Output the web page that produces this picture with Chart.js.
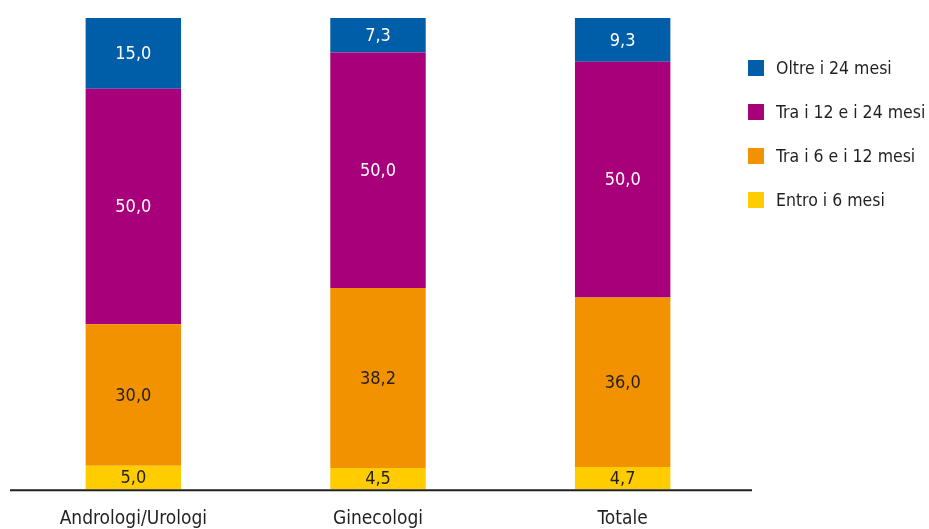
<!DOCTYPE html>
<html>
<head>
<meta charset="utf-8">
<script src="https://cdn.jsdelivr.net/npm/chart.js@4"></script>
<style>
  html, body { margin: 0; padding: 0; background: #fff; overflow: hidden; }
  #wrap { position: relative; width: 929px; height: 560px; }
</style>
</head>
<body>
<div id="wrap"><canvas id="grafico"></canvas></div>
<script>
var categorie = ['Andrologi/Urologi', 'Ginecologi', 'Totale'];
var entro6 = [5.0, 4.5, 4.7];
var tra6e12 = [30.0, 38.2, 36.0];
var tra12e24 = [50.0, 50.0, 50.0];
var oltre24 = [15.0, 7.3, 9.3];

var font = "'Liberation Sans Narrow', 'DejaVu Sans Condensed', 'Arial Narrow', sans-serif";

// valori dentro le barre
var etichette = {
  id: 'etichette',
  afterDatasetsDraw: function (chart) {
    var ctx = chart.ctx;
    ctx.save();
    ctx.font = '18px ' + font;
    ctx.textAlign = 'center';
    ctx.textBaseline = 'middle';
    chart.data.datasets.forEach(function (ds, i) {
      var meta = chart.getDatasetMeta(i);
      meta.data.forEach(function (bar, j) {
        var v = ds.data[j];
        var y = (bar.y + bar.base) / 2;
        ctx.fillStyle = ds.labelColor;
        ctx.fillText(v.toFixed(1).replace('.', ','), bar.x, y + 1);
      });
    });
    ctx.restore();
  }
};

// linea asse e legenda a destra
var asseLegenda = {
  id: 'asseLegenda',
  afterDraw: function (chart) {
    var ctx = chart.ctx;
    var a = chart.chartArea;
    ctx.save();
    ctx.strokeStyle = '#231f20';
    ctx.lineWidth = 2;
    ctx.beginPath();
    ctx.moveTo(a.left - 1, a.bottom + 1);
    ctx.lineTo(a.right + 7, a.bottom + 1);
    ctx.stroke();

    ctx.font = '17.5px ' + font;
    ctx.textBaseline = 'middle';
    ctx.textAlign = 'left';
    var ds = chart.data.datasets.slice().reverse();
    ds.forEach(function (d, k) {
      var y = 68 + k * 44;
      ctx.fillStyle = d.backgroundColor;
      ctx.fillRect(748, y - 8, 16, 16);
      ctx.fillStyle = '#231f20';
      ctx.fillText(d.label, 776, y + 1);
    });
    ctx.restore();
  }
};

var chart = new Chart(document.getElementById('grafico'), {
  type: 'bar',
  data: {
    labels: categorie,
    datasets: [
      { label: 'Entro i 6 mesi', data: entro6, backgroundColor: '#ffcc00', labelColor: '#231f20' },
      { label: 'Tra i 6 e i 12 mesi', data: tra6e12, backgroundColor: '#f39200', labelColor: '#231f20' },
      { label: 'Tra i 12 e i 24 mesi', data: tra12e24, backgroundColor: '#a8007a', labelColor: '#ffffff' },
      { label: 'Oltre i 24 mesi', data: oltre24, backgroundColor: '#005ea8', labelColor: '#ffffff' }
    ]
  },
  options: {
    responsive: true,
    maintainAspectRatio: false,
    animation: false,
    layout: { padding: { left: 11, right: 184, top: 18, bottom: 12 } },
    datasets: { bar: { barPercentage: 0.39, categoryPercentage: 1, borderWidth: 0 } },
    plugins: {
      legend: { display: false },
      tooltip: { enabled: false }
    },
    scales: {
      x: {
        stacked: true,
        grid: { display: false, drawTicks: false },
        border: { display: false },
        ticks: { color: '#231f20', padding: 18, font: { family: font, size: 19 } }
      },
      y: {
        stacked: true,
        min: 0,
        max: 100,
        display: false
      }
    }
  },
  plugins: [etichette, asseLegenda]
});
</script>
</body>
</html>
